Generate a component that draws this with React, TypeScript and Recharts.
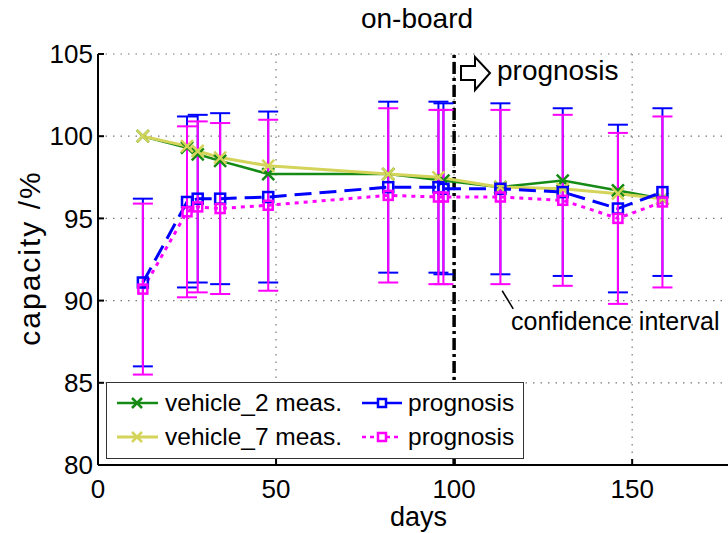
import {
  LineChart,
  Line,
  XAxis,
  YAxis,
  CartesianGrid,
  ErrorBar,
  ReferenceLine,
  Customized,
} from "recharts";

const daysV2 = [12.6, 25, 28, 34.3, 47.8, 81.5, 97, 113, 130.5, 146, 158.5];
const capV2 = [100, 99.3, 98.9, 98.5, 97.7, 97.7, 97.3, 96.9, 97.3, 96.7, 96.2];

const daysV7 = [12.6, 25, 28, 34.3, 47.8, 81.5, 95.6, 113, 130.5, 146, 158.5];
const capV7 = [100, 99.4, 99.1, 98.7, 98.2, 97.7, 97.5, 96.9, 96.8, 96.5, 96.2];

const daysProg = [12.6, 25, 28, 34.3, 47.8, 81.5, 95.6, 97, 113, 130.5, 146, 158.5];
const progBlue = [91.1, 96.0, 96.2, 96.2, 96.3, 96.9, 96.9, 96.8, 96.8, 96.6, 95.6, 96.6];
const errBlue = [5.1, 5.2, 5.1, 5.2, 5.2, 5.2, 5.2, 5.2, 5.2, 5.1, 5.1, 5.1];
const progPink = [90.7, 95.4, 95.7, 95.6, 95.8, 96.4, 96.3, 96.3, 96.3, 96.1, 95.0, 96.0];
const errPink = [5.2, 5.2, 5.2, 5.2, 5.2, 5.3, 5.3, 5.3, 5.3, 5.2, 5.2, 5.2];

const xTicks = [0, 50, 100, 150];
const yTicks = [80, 85, 90, 95, 100, 105];

const FONT = '"Liberation Sans", Arial, sans-serif';
const GREEN = "#158a15";
const YELLOW = "#d4d45a";
const BLUE = "#0000ff";
const PINK = "#ff00ff";

const rows = (days: number[], vals: number[], errs?: number[]) =>
  days.map((d, i) => ({ day: d, v: vals[i], e: errs ? errs[i] : 0 }));

const xDot = (color: string) => (p: any) => {
  const { cx, cy, index } = p;
  if (cx == null || cy == null) return <g key={index} />;
  return (
    <path
      key={index}
      d={`M${cx - 6},${cy - 6}L${cx + 6},${cy + 6}M${cx - 6},${cy + 6}L${cx + 6},${cy - 6}`}
      stroke={color}
      strokeWidth={2.5}
      fill="none"
    />
  );
};

const sqDot = (color: string, h: number) => (p: any) => {
  const { cx, cy, index } = p;
  if (cx == null || cy == null) return <g key={index} />;
  return (
    <rect
      key={index}
      x={cx - h}
      y={cy - h}
      width={h * 2}
      height={h * 2}
      stroke={color}
      strokeWidth={2.5}
      fill="none"
    />
  );
};

const noTick = () => <g />;

function Annotations() {
  return (
    <g fontFamily={FONT} fill="#000">
      <text x={417} y={28} fontSize={28} textAnchor="middle">
        on-board
      </text>
      <text
        x={29}
        y={258}
        fontSize={30}
        letterSpacing={2}
        textAnchor="middle"
        dominantBaseline="central"
        transform="rotate(-90 29 258)"
      >
        capacity /%
      </text>
      <polygon
        points="461,66 475,66 475,57 490,73 475,90 475,80 461,80"
        fill="#fff"
        stroke="#000"
        strokeWidth={2}
      />
      <text x={497} y={80} fontSize={28}>
        prognosis
      </text>
      <text x={511} y={330} fontSize={25}>
        confidence interval
      </text>
    </g>
  );
}

function LegendBox() {
  return (
    <svg
      width={418}
      height={77}
      style={{ position: "absolute", left: 106, top: 382 }}
      fontFamily={FONT}
    >
      <rect x={0.5} y={0.5} width={417} height={76} fill="#fff" stroke="#333" strokeWidth={1} />
      <line x1={11} x2={52} y1={21} y2={21} stroke={GREEN} strokeWidth={2.5} />
      <path d="M26,16L36,26M26,26L36,16" stroke={GREEN} strokeWidth={2.5} />
      <text x={59} y={29} fontSize={24.5}>vehicle_2 meas.</text>
      <line x1={11} x2={52} y1={55} y2={55} stroke={YELLOW} strokeWidth={3} />
      <path d="M26,50L36,60M26,60L36,50" stroke={YELLOW} strokeWidth={2.5} />
      <text x={59} y={63} fontSize={24.5}>vehicle_7 meas.</text>
      <line x1={256} x2={296} y1={21} y2={21} stroke={BLUE} strokeWidth={2.5} />
      <rect x={272} y={17} width={8} height={8} fill="#fff" stroke={BLUE} strokeWidth={2.5} />
      <text x={302} y={29} fontSize={24.5}>prognosis</text>
      <line x1={256} x2={296} y1={55} y2={55} stroke={PINK} strokeWidth={2.5} strokeDasharray="4 4" />
      <rect x={272} y={51} width={8} height={8} fill="#fff" stroke={PINK} strokeWidth={2.5} />
      <text x={302} y={63} fontSize={24.5}>prognosis</text>
    </svg>
  );
}

export default function App() {
  return (
    <div
      style={{
        position: "absolute",
        left: 0,
        top: 0,
        width: 728,
        height: 533,
        overflow: "hidden",
        background: "#fff",
      }}
    >
      <LineChart
        width={745}
        height={533}
        margin={{ top: 54, right: 6, bottom: 0, left: 0 }}
      >
        <CartesianGrid stroke="#777" strokeDasharray="1.5 6" strokeWidth={1.2} />
        <XAxis
          dataKey="day"
          type="number"
          domain={[0, 180]}
          ticks={xTicks}
          allowDataOverflow
          height={68}
          tickSize={-6}
          tickMargin={21}
          stroke="#000"
          strokeWidth={2}
          tick={{ fill: "#000", fontSize: 26, fontFamily: FONT }}
          label={{
            value: "days",
            position: "insideBottom",
            offset: 7,
            fill: "#000",
            fontSize: 27,
            fontFamily: FONT,
          }}
        />
        <XAxis
          xAxisId="top"
          orientation="top"
          dataKey="day"
          type="number"
          domain={[0, 180]}
          ticks={xTicks}
          height={0}
          tickSize={-6}
          stroke="#000"
          strokeWidth={2}
          tick={noTick}
        />
        <YAxis
          type="number"
          domain={[80, 105]}
          ticks={yTicks}
          width={98}
          tickSize={-6}
          tickMargin={11}
          stroke="#000"
          strokeWidth={2}
          tick={{ fill: "#000", fontSize: 26, fontFamily: FONT }}
        />
        <ReferenceLine
          x={100}
          stroke="#000"
          strokeWidth={3.5}
          strokeDasharray="12 4 3 4"
        />
        <ReferenceLine
          segment={[
            { x: 113.5, y: 90.6 },
            { x: 116.6, y: 89.5 },
          ]}
          stroke="#000"
          strokeWidth={1.5}
        />
        <Line
          data={rows(daysV2, capV2)}
          dataKey="v"
          stroke={GREEN}
          strokeWidth={2.5}
          dot={xDot(GREEN)}
          activeDot={false}
          isAnimationActive={false}
        />
        <Line
          data={rows(daysV7, capV7)}
          dataKey="v"
          stroke={YELLOW}
          strokeWidth={3}
          dot={xDot(YELLOW)}
          activeDot={false}
          isAnimationActive={false}
        />
        <Line
          data={rows(daysProg, progBlue, errBlue)}
          dataKey="v"
          stroke={BLUE}
          strokeWidth={3}
          strokeDasharray="17 8"
          dot={sqDot(BLUE, 5)}
          activeDot={false}
          isAnimationActive={false}
        >
          <ErrorBar
            dataKey="e"
            direction="y"
            width={10}
            stroke={BLUE}
            strokeWidth={2}
            isAnimationActive={false}
          />
        </Line>
        <Line
          data={rows(daysProg, progPink, errPink)}
          dataKey="v"
          stroke={PINK}
          strokeWidth={3}
          strokeDasharray="4 5"
          dot={sqDot(PINK, 4.5)}
          activeDot={false}
          isAnimationActive={false}
        >
          <ErrorBar
            dataKey="e"
            direction="y"
            width={10}
            stroke={PINK}
            strokeWidth={2}
            isAnimationActive={false}
          />
        </Line>
        <Customized component={Annotations} />
      </LineChart>
      <LegendBox />
    </div>
  );
}
